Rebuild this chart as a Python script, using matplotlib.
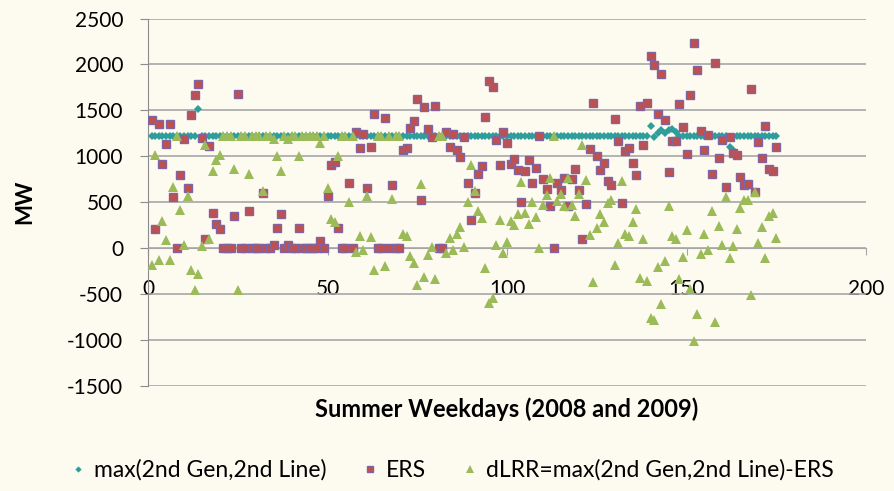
import numpy as np
import matplotlib.pyplot as plt

plt.rcParams['font.family'] = ['Lato', 'DejaVu Sans']
plt.rcParams['axes.unicode_minus'] = False

# daily values in MW, one per summer weekday
max_gen_line = [1220, 1220, 1220, 1220, 1220, 1220, 1220, 1220, 1220, 1220,
                1220, 1220, 1220, 1510, 1220, 1220, 1220, 1220, 1220, 1220,
                1220, 1220, 1220, 1220, 1220, 1220, 1220, 1220, 1220, 1220,
                1220, 1220, 1220, 1220, 1220, 1220, 1220, 1220, 1220, 1220,
                1220, 1220, 1220, 1220, 1220, 1220, 1220, 1220, 1220, 1220,
                1220, 1220, 1220, 1220, 1220, 1220, 1220, 1220, 1220, 1220,
                1220, 1220, 1220, 1220, 1220, 1220, 1220, 1220, 1220, 1220,
                1220, 1220, 1220, 1220, 1220, 1220, 1220, 1220, 1220, 1220,
                1220, 1220, 1220, 1220, 1220, 1220, 1220, 1220, 1220, 1220,
                1220, 1220, 1220, 1220, 1220, 1220, 1220, 1220, 1220, 1220,
                1220, 1220, 1220, 1220, 1220, 1220, 1220, 1220, 1220, 1220,
                1220, 1220, 1220, 1220, 1220, 1220, 1220, 1220, 1220, 1220,
                1220, 1220, 1220, 1220, 1220, 1220, 1220, 1220, 1220, 1220,
                1220, 1220, 1220, 1220, 1220, 1220, 1220, 1220, 1220, 1330,
                1215, 1255, 1285, 1255, 1285, 1300, 1270, 1225, 1220, 1220,
                1220, 1220, 1220, 1220, 1220, 1220, 1220, 1220, 1220, 1220,
                1220, 1100, 1065, 1220, 1220, 1220, 1220, 1220, 1220, 1220,
                1220, 1220, 1220, 1220, 1220]

ers = [1400, 210, 1350, 920, 1135, 1350, 555, 0, 800, 1190,
       650, 1455, 1670, 1790, 1200, 100, 1115, 380, 265, 205,
       0, 0, 0, 355, 1675, 0, 0, 410, 0, 0,
       0, 600, 0, 0, 35, 220, 375, 0, 35, 0,
       0, 220, 0, 0, 0, 0, 0, 75, 0, 570,
       905, 940, 220, 0, 0, 715, 0, 1260, 1090, 1240,
       650, 1100, 1460, 0, 0, 1415, 0, 685, 0, 0,
       1070, 1090, 1305, 1385, 1620, 525, 1535, 1295, 1205, 1550,
       0, 0, 1270, 1105, 1240, 1070, 990, 1205, 715, 310,
       600, 810, 890, 1430, 1820, 1760, 1180, 910, 1270, 1150,
       920, 970, 850, 500, 840, 955, 715, 875, 1220, 755,
       645, 460, 0, 705, 635, 760, 455, 755, 865, 635,
       100, 480, 1080, 1585, 1000, 850, 930, 730, 690, 1405,
       1165, 490, 1060, 1090, 930, 795, 1545, 1120, 1580, 2090,
       1995, 1460, 1895, 1390, 825, 1170, 1170, 1565, 1320, 1025,
       1665, 2230, 1940, 1280, 1070, 1235, 810, 2020, 980, 1180,
       665, 1205, 1040, 1010, 780, 690, 695, 1730, 610, 1160,
       985, 1325, 865, 840, 1105]

dlrr = [-180, 1010, -130, 300, 85, -130, 665, 1220, 420, 30,
        570, -235, -450, -280, 20, 1120, 105, 840, 955, 1015,
        1220, 1220, 1220, 865, -455, 1220, 1220, 810, 1220, 1220,
        1220, 620, 1220, 1220, 1185, 1000, 845, 1220, 1185, 1220,
        1220, 1000, 1220, 1220, 1220, 1220, 1220, 1145, 1220, 650,
        315, 280, 1000, 1220, 1220, 505, 1220, -40, 130, -20,
        570, 120, -240, 1220, 1220, -195, 1220, 535, 1220, 1220,
        150, 130, -85, -165, -400, 695, -315, -75, 15, -330,
        1220, 1220, -50, 115, -20, 150, 230, 15, 505, 910,
        620, 410, 330, -210, -600, -540, 40, 310, -50, 70,
        300, 250, 370, 720, 380, 265, 505, 345, 0, 465,
        575, 760, 1220, 515, 585, 460, 765, 465, 355, 585,
        1120, 740, 140, -365, 220, 370, 290, 490, 530, -185,
        55, 730, 160, 130, 290, 425, -325, 100, -360, -760,
        -780, -205, -610, -135, 460, 130, 100, -340, -100, 195,
        -445, -1010, -720, -60, 150, -15, 410, -800, 240, 40,
        555, -105, 25, 210, 440, 530, 525, -510, 610, 60,
        235, -105, 355, 380, 115]

days = np.arange(1, len(ers) + 1)

bg = '#FDFAF0'
grid_col = '#A6A6A6'

fig, ax = plt.subplots(figsize=(8.95, 4.91), dpi=100)
fig.patch.set_facecolor(bg)
ax.set_facecolor(bg)
fig.subplots_adjust(left=0.1654, right=0.9676, top=0.9623, bottom=0.2138)

p1, = ax.plot(days, max_gen_line, 'D', color='#2E9E9C', ms=4, mew=0,
              label='max(2nd Gen,2nd Line)', zorder=3)
p2, = ax.plot(days, ers, 's', mfc='#C0504D', mec='#8064A2', mew=1, ms=5.5,
              label='ERS', zorder=4)
p3, = ax.plot(days, dlrr, '^', color='#9BBB59', ms=6.5, mew=0,
              label='dLRR=max(2nd Gen,2nd Line)-ERS', zorder=5)

ax.set_xlim(0, 200)
ax.set_ylim(-1500, 2500)
ax.set_xticks(range(0, 201, 50))
ax.set_yticks(range(-1500, 2501, 500))
ax.yaxis.grid(True, color=grid_col, lw=1.2)
ax.set_axisbelow(True)

for s in ['top', 'right']:
    ax.spines[s].set_visible(False)
ax.spines['bottom'].set_position(('data', 0))
ax.spines['bottom'].set_color(grid_col)
ax.spines['left'].set_color('#8C8C8C')
ax.tick_params(axis='x', length=5, color=grid_col, pad=17, labelsize=15)
ax.tick_params(axis='y', length=6, color='#8C8C8C', pad=12, labelsize=15)

ax.set_xlabel('Summer Weekdays (2008 and 2009)', fontsize=17, fontweight='bold')
ax.xaxis.set_label_coords(0.5, -0.03)
ax.set_ylabel('MW', fontsize=16, fontweight='bold')
ax.yaxis.set_label_coords(-0.157, 0.5)

fig.legend(handles=[p1, p2, p3], loc='center', bbox_to_anchor=(0.504, 0.043),
           ncol=3, frameon=False, fontsize=16.5, markerscale=0.8,
           handlelength=0.8, handletextpad=0.3, columnspacing=1.5)

plt.savefig('out.png', facecolor=bg)
